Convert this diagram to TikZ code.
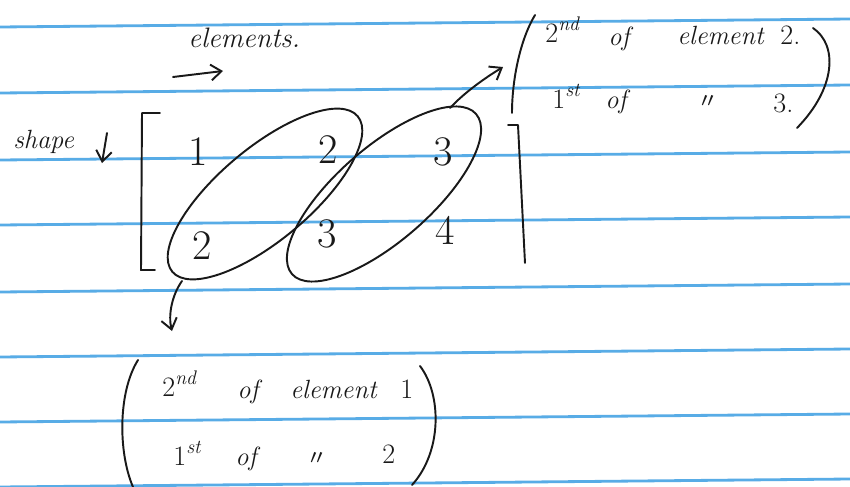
\documentclass[tikz,border=0pt]{standalone}
\usepackage{fontspec}
\newfontfamily\cjk{Noto Sans CJK JP}
\usetikzlibrary{arrows.meta}
\definecolor{ruleblue}{RGB}{88,172,230}
\definecolor{ink}{RGB}{25,25,25}
\tikzset{
  rule/.style={ruleblue, line width=1.6pt},
  pen/.style={ink, line width=1.1pt, line cap=round, line join=round},
  barb/.style={pen, -{Straight Barb[length=6pt,width=9pt]}},
  word/.style={inner sep=0pt, anchor=base west, text=ink, font=\fontsize{15}{17}\selectfont\itshape},
  num/.style={word, font=\fontsize{16}{18}\selectfont},
  digit/.style={inner sep=0pt, text=ink, font=\fontsize{24}{28}\selectfont},
}
\begin{document}
\begin{tikzpicture}[x=0.02cm, y=-0.02cm]
\useasboundingbox (0,0) rectangle (850,487);
\fill[white] (0,0) rectangle (850,487);
% ruled paper
\foreach \yy in {27,93,160,225,292,357,422,487}
  \draw[rule] (0,\yy) -- (850,\yy-8);

% axis labels
\node[word, font=\fontsize{16}{18}\selectfont\itshape] (elts) at (188,47) {elements.};
\coordinate (ea) at (173,77);
\coordinate (eb) at (223,71);
\draw[barb] (ea) -- (eb);

\node[word] (shape) at (13,148) {shape};
\coordinate (sa) at (107,133);
\coordinate (sb) at (102,163);
\draw[barb] (sa) -- (sb);

% matrix brackets
\draw[pen] (160,113) -- (142,113) -- (141,270) -- (155,270);
\draw[pen] (508,125) -- (518,125) -- (525,263);

% matrix entries
\node[digit] (a11) at (198,152) {1};
\node[digit] (a12) at (328,150) {2};
\node[digit] (a13) at (443,152) {3};
\node[digit] (a21) at (202,246) {2};
\node[digit] (a22) at (327,234) {3};
\node[digit] (a23) at (445,230) {4};

% grouping ellipses
\coordinate (E1) at (265,194);
\coordinate (E2) at (384,194);
\draw[pen, rotate around={40:(E1)}] (E1) ellipse [x radius=2.42cm, y radius=0.92cm];
\draw[pen, rotate around={41:(E2)}] (E2) ellipse [x radius=2.44cm, y radius=0.94cm];

% connectors
\coordinate (s2) at (450,108);
\coordinate (t2) at (503,67);
\draw[barb] (s2) .. controls (465,92) and (485,78) .. (t2);
\coordinate (s1) at (182,281);
\coordinate (t1) at (172,331);
\draw[barb] (s1) .. controls (172,295) and (168,315) .. (t1);

% top-right annotation
\draw[pen] (535,15) .. controls (520,40) and (512,80) .. (512,113);
\draw[pen] (813,28) .. controls (838,45) and (836,88) .. (797,128);
\node[num] (r1a) at (545,42) {2\textsuperscript{\itshape nd}};
\node[word] (r1b) at (608,45) {of};
\node[word] (r1c) at (677,44) {element};
\node[num] (r1d) at (780,44) {2.};
\node[num] (r2a) at (552,108) {1\textsuperscript{\itshape st}};
\node[word] (r2b) at (605,108) {of};
\node[word, font=\fontsize{12}{14}\selectfont\cjk] (r2c) at (697,108) {〃};
\node[num] (r2d) at (773,112) {3.};

% bottom annotation
\draw[pen] (138,360) .. controls (118,392) and (118,452) .. (133,487);
\draw[pen] (420,366) .. controls (442,395) and (442,452) .. (412,485);
\node[num] (b1a) at (162,396) {2\textsuperscript{\itshape nd}};
\node[word] (b1b) at (237,398) {of};
\node[word] (b1c) at (290,398) {element};
\node[num] (b1d) at (400,398) {1};
\node[num] (b2a) at (173,465) {1\textsuperscript{\itshape st}};
\node[word] (b2b) at (235,465) {of};
\node[word, font=\fontsize{12}{14}\selectfont\cjk] (b2c) at (306,465) {〃};
\node[num] (b2d) at (382,463) {2};
\end{tikzpicture}
\end{document}
